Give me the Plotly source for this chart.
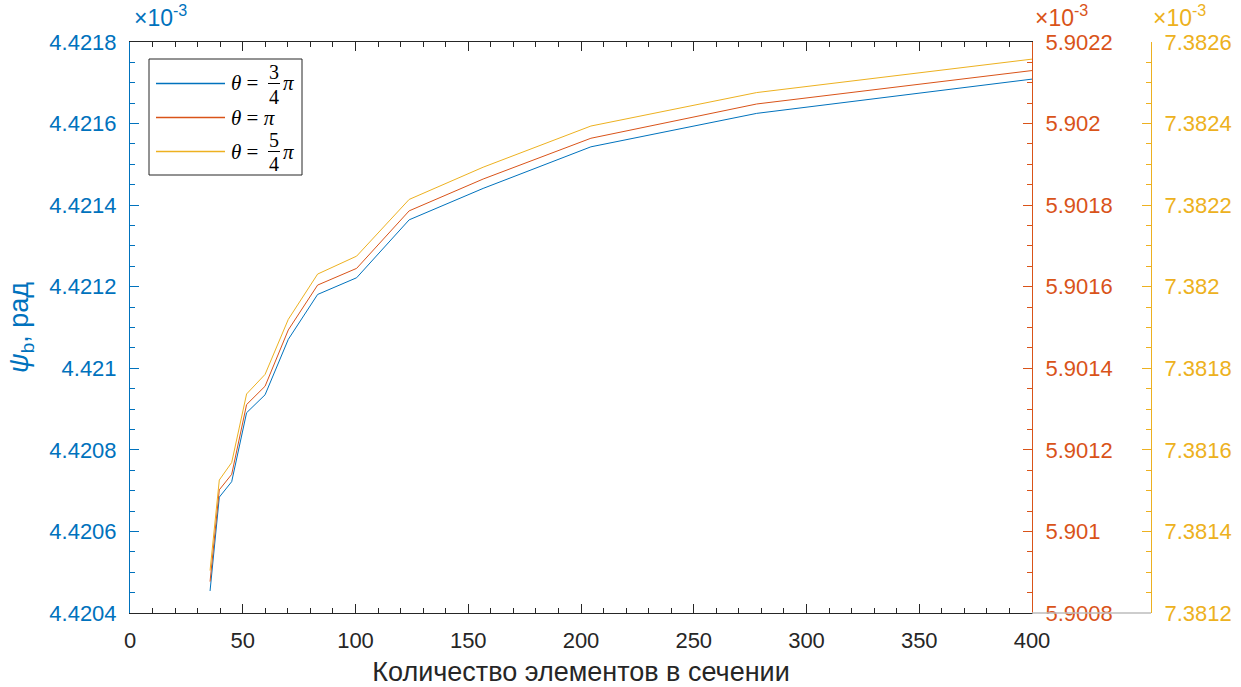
import plotly.graph_objects as go

# Number of elements in the cross-section
n_elements = [35.5, 39.6, 45.1, 51.7, 59.9, 70.2, 83.2, 100.5, 123.8, 156.6, 204.4, 277.9, 400]

# psi_b, rad (values in units of 1e-3)
psi_3_4 = [4.420454, 4.420684, 4.420722, 4.420891, 4.420935, 4.421071, 4.421181,
           4.421222, 4.421364, 4.421441, 4.421543, 4.421625, 4.421709]
psi_1 = [5.900877, 5.901102, 5.901140, 5.901311, 5.901356, 5.901494, 5.901604,
         5.901645, 5.901786, 5.901864, 5.901964, 5.902048, 5.902130]
psi_5_4 = [7.381304, 7.381526, 7.381569, 7.381737, 7.381785, 7.381920, 7.382031,
           7.382075, 7.382214, 7.382293, 7.382394, 7.382476, 7.382558]

left_ticks = [4.4204, 4.4206, 4.4208, 4.421, 4.4212, 4.4214, 4.4216, 4.4218]
mid_ticks = [5.9008, 5.901, 5.9012, 5.9014, 5.9016, 5.9018, 5.902, 5.9022]
right_ticks = [7.3812, 7.3814, 7.3816, 7.3818, 7.382, 7.3822, 7.3824, 7.3826]
x_ticks = [0, 50, 100, 150, 200, 250, 300, 350, 400]

BLUE = "#0072BD"
ORANGE = "#D95319"
YELLOW = "#EDB120"
DARK = "#262626"
FONT = "Liberation Sans, Arial, sans-serif"
SERIF = "Liberation Serif, Times New Roman, serif"
FS = 22
TFS = 27

W, H = 1241, 687
L, R, T, B = 130, 90, 42, 74
PW, PH = W - L - R, H - T - B
X_END = 1032  # right edge of the main axes box (px)


def px(xp):
    return (xp - L) / PW


def py(yp):
    return (H - B - yp) / PH


fig = go.Figure()
fig.add_trace(go.Scatter(x=n_elements, y=psi_3_4, mode="lines", line=dict(color=BLUE, width=1),
                         yaxis="y", showlegend=False))
fig.add_trace(go.Scatter(x=n_elements, y=psi_1, mode="lines", line=dict(color=ORANGE, width=1),
                         yaxis="y2", showlegend=False))
fig.add_trace(go.Scatter(x=n_elements, y=psi_5_4, mode="lines", line=dict(color=YELLOW, width=1),
                         yaxis="y3", showlegend=False))


def yax(color, ticks, **kw):
    d = dict(
        range=[ticks[0], ticks[-1]], tickvals=ticks, ticktext=[f"{t:g}" for t in ticks],
        showgrid=False, zeroline=False, showline=True, linecolor=color, linewidth=1,
        ticks="inside", ticklen=9, tickcolor=color, tickwidth=1,
        minor=dict(dtick=0.00005, ticks="inside", ticklen=5, tickcolor=color, tickwidth=1, showgrid=False),
        tickfont=dict(family=FONT, size=FS, color=color),
        ticklabelstandoff=8, automargin=False,
    )
    d.update(kw)
    return d


fig.update_layout(
    width=W, height=H,
    margin=dict(l=L, r=R, t=T, b=B, autoexpand=False),
    plot_bgcolor="white", paper_bgcolor="white",
    xaxis=dict(
        domain=[0, (X_END - L) / PW], range=[0, 400], tickvals=x_ticks,
        showgrid=False, zeroline=False, showline=True, linecolor=DARK, linewidth=1,
        mirror="ticks", ticks="inside", ticklen=9, tickcolor=DARK,
        minor=dict(dtick=10, ticks="inside", ticklen=5, tickcolor=DARK, showgrid=False),
        tickfont=dict(family=FONT, size=FS, color=DARK), ticklabelstandoff=8, automargin=False,
        title=dict(text="Количество элементов в сечении", font=dict(family=FONT, size=TFS, color=DARK),
                   standoff=12),
    ),
    yaxis=yax(BLUE, left_ticks,
              title=dict(text="<i>ψ</i><sub>b</sub>, рад", font=dict(family=FONT, size=TFS, color=BLUE),
                         standoff=12)),
    yaxis2=yax(ORANGE, mid_ticks, overlaying="y", side="right", anchor="x"),
    yaxis3=yax(YELLOW, right_ticks, overlaying="y", side="right", anchor="free", position=1.0),
)

shapes = []
annotations = []

# light baseline under the third axis
shapes.append(dict(type="line", xref="paper", yref="paper", x0=px(X_END), x1=1.0, y0=0, y1=0,
                   line=dict(color="#BDBDBD", width=1.5)))

# exponent labels
for xp, color in [(132, BLUE), (1033, ORANGE), (1151, YELLOW)]:
    annotations.append(dict(xref="paper", yref="paper", x=px(xp), y=py(16), xanchor="left", yanchor="middle",
                            text="×10<sup>-3</sup>", showarrow=False,
                            font=dict(family=FONT, size=23, color=color)))

# legend box
shapes.append(dict(type="rect", xref="paper", yref="paper", x0=px(149), x1=px(302), y0=py(59), y1=py(175),
                   line=dict(color=DARK, width=1), fillcolor="white", layer="above"))

LFS = 21
rows = [(83.5, BLUE, ("3", "4")), (117.5, ORANGE, None), (151.5, YELLOW, ("5", "4"))]
for yc, color, frac in rows:
    shapes.append(dict(type="line", xref="paper", yref="paper", x0=px(156), x1=px(225), y0=py(yc), y1=py(yc),
                       line=dict(color=color, width=1.5), layer="above"))
    if frac is None:
        annotations.append(dict(xref="paper", yref="paper", x=px(229), y=py(yc), xanchor="left", yanchor="middle",
                                text="<i>θ</i> = <i>π</i>", showarrow=False,
                                font=dict(family=SERIF, size=LFS, color="black")))
    else:
        annotations.append(dict(xref="paper", yref="paper", x=px(229), y=py(yc), xanchor="left", yanchor="middle",
                                text="<i>θ</i> =", showarrow=False,
                                font=dict(family=SERIF, size=LFS, color="black")))
        annotations.append(dict(xref="paper", yref="paper", x=px(274), y=py(yc - 12), xanchor="center",
                                yanchor="middle", text=frac[0], showarrow=False,
                                font=dict(family=SERIF, size=LFS - 1, color="black")))
        annotations.append(dict(xref="paper", yref="paper", x=px(274), y=py(yc + 13), xanchor="center",
                                yanchor="middle", text=frac[1], showarrow=False,
                                font=dict(family=SERIF, size=LFS - 1, color="black")))
        shapes.append(dict(type="line", xref="paper", yref="paper", x0=px(268), x1=px(280),
                           y0=py(yc), y1=py(yc), line=dict(color="black", width=1), layer="above"))
        annotations.append(dict(xref="paper", yref="paper", x=px(281), y=py(yc), xanchor="left", yanchor="middle",
                                text="<i>π</i>", showarrow=False,
                                font=dict(family=SERIF, size=LFS, color="black")))

fig.update_layout(shapes=shapes, annotations=annotations)
fig.write_html("out.html")
